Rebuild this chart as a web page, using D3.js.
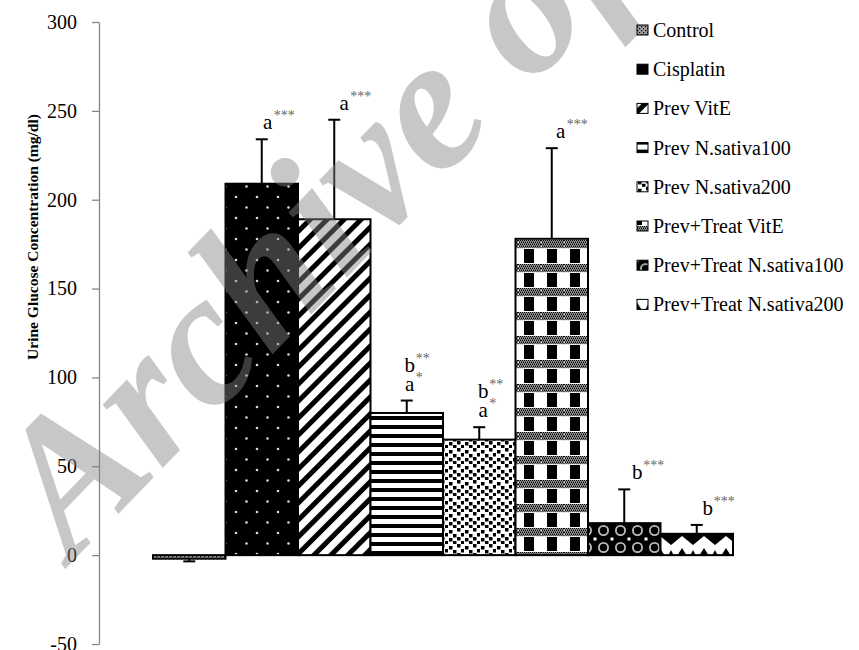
<!DOCTYPE html>
<html>
<head>
<meta charset="utf-8">
<script src="https://cdnjs.cloudflare.com/ajax/libs/d3/7.8.5/d3.min.js"></script>
<title>Urine Glucose</title>
<style>
    html, body { margin: 0; background: #fff; }
    .svg_canvas { display: block; font-family: "Liberation Serif", "Times New Roman", serif; }
</style>
</head>
<body>
<svg width="859" height="650" class="svg_canvas"></svg>
<script>
    var groups = ["Control", "Cisplatin", "Prev VitE", "Prev N.sativa100", "Prev N.sativa200",
                  "Prev+Treat VitE", "Prev+Treat N.sativa100", "Prev+Treat N.sativa200"];
    var means  = [-2, 209, 189, 80, 65, 178, 18, 12];
    var errors = [1.5, 25, 56, 7, 7, 51, 19, 5];
    var yTicks = [-50, 0, 50, 100, 150, 200, 250, 300];
    // significance letters per bar, top line first: [letter, superscript]
    var marks = [
        [],
        [["a", "***"]],
        [["a", "***"]],
        [["b", "**"], ["a", "*"]],
        [["b", "**"], ["a", "*"]],
        [["a", "***"]],
        [["b", "***"]],
        [["b", "***"]]
    ];
    var markShift = [0, 6, 10, 3, 4, 9, 13, 11];

    var svg = d3.select(".svg_canvas");

    var y = d3.scaleLinear().domain([-50, 300]).range([644, 22]);
    var x = d3.scaleBand().domain(groups).range([153, 733]).padding(0);

    // fill patterns
    var defs = svg.append("defs");
    function pat(id, w, h) {
        return defs.append("pattern").attr("id", id)
            .attr("patternUnits", "userSpaceOnUse")
            .attr("width", w).attr("height", h);
    }
    var p;
    p = pat("p0", 4, 4);
    p.append("rect").attr("width", 4).attr("height", 4).attr("fill", "#9a9a9a");
    p.append("rect").attr("width", 1.2).attr("height", 1.2).attr("fill", "#000");
    p.append("rect").attr("x", 2).attr("y", 2).attr("width", 1.2).attr("height", 1.2).attr("fill", "#000");

    p = pat("p1", 21, 21).attr("y", 3);
    p.append("rect").attr("width", 21).attr("height", 21).attr("fill", "#000");
    p.append("circle").attr("cx", 5).attr("cy", 5).attr("r", 1.3).attr("fill", "#d8d8d8");
    p.append("circle").attr("cx", 15.5).attr("cy", 15.5).attr("r", 1.3).attr("fill", "#d8d8d8");

    p = pat("p2", 12, 12).attr("patternTransform", "rotate(45)");
    p.append("rect").attr("width", 12).attr("height", 12).attr("fill", "#fff");
    p.append("rect").attr("width", 5).attr("height", 12).attr("fill", "#000");

    p = pat("p3", 9, 9).attr("y", 2);
    p.append("rect").attr("width", 9).attr("height", 9).attr("fill", "#fff");
    p.append("rect").attr("width", 9).attr("height", 4).attr("fill", "#000");

    p = pat("p4", 16, 16);
    p.append("rect").attr("width", 16).attr("height", 16).attr("fill", "#fff");
    [[1, 2], [9, 0], [5, 6], [13, 5], [1, 10], [9, 9], [5, 13], [13, 13]].forEach(function(s) {
        p.append("rect").attr("x", s[0]).attr("y", s[1]).attr("width", 3.5).attr("height", 3.5).attr("fill", "#000");
    });

    p = pat("p5", 23, 24).attr("x", 518);
    p.append("rect").attr("width", 23).attr("height", 24).attr("fill", "#fff");
    for (var i = 0; i < 23; i += 2) {
        for (var j = 0; j < 8; j += 2) {
            p.append("rect").attr("x", i + (j % 4 ? 1 : 0)).attr("y", j).attr("width", 1.4).attr("height", 1.4).attr("fill", "#000");
            p.append("rect").attr("x", i + (j % 4 ? 0 : 1)).attr("y", j + 1).attr("width", 1.2).attr("height", 1.2).attr("fill", "#555");
        }
    }
    p.append("rect").attr("x", 6).attr("y", 9).attr("width", 10).attr("height", 14).attr("fill", "#000");

    p = pat("p6", 17, 17).attr("y", 522);
    p.append("rect").attr("width", 17).attr("height", 17).attr("fill", "#000");
    p.append("circle").attr("cx", 8.5).attr("cy", 8.5).attr("r", 4.6).attr("fill", "none").attr("stroke", "#bbb").attr("stroke-width", 1.8);
    p.append("rect").attr("x", -1.5).attr("y", -1.5).attr("width", 3).attr("height", 3).attr("fill", "#fff");
    p.append("rect").attr("x", 15.5).attr("y", -1.5).attr("width", 3).attr("height", 3).attr("fill", "#fff");
    p.append("rect").attr("x", -1.5).attr("y", 15.5).attr("width", 3).attr("height", 3).attr("fill", "#fff");
    p.append("rect").attr("x", 15.5).attr("y", 15.5).attr("width", 3).attr("height", 3).attr("fill", "#fff");

    p = pat("p7", 22, 22).attr("x", 660).attr("y", 534);
    p.append("rect").attr("width", 22).attr("height", 22).attr("fill", "#fff");
    p.append("polygon").attr("points", "0,0 22,0 22,2 11,11 0,2").attr("fill", "#000");
    p.append("polygon").attr("points", "0,14 5,22 0,22").attr("fill", "#000");
    p.append("polygon").attr("points", "22,14 17,22 22,22").attr("fill", "#000");
    p.append("polygon").attr("points", "11,16 14,22 8,22").attr("fill", "#000");

    // y axis
    var yAxis = svg.append("g")
        .attr("transform", "translate(99,0)")
        .call(d3.axisLeft(y).tickValues(yTicks).tickSize(7).tickSizeOuter(0).tickPadding(15)
            .tickFormat(function(d) { return String(d); }));
    yAxis.select(".domain").attr("stroke", "#868686").attr("stroke-width", 1.3);
    yAxis.selectAll(".tick line").attr("stroke", "#868686").attr("stroke-width", 1.3);
    yAxis.selectAll(".tick text")
        .style("font-family", "Liberation Serif, serif")
        .style("font-size", "20px").attr("fill", "#000");

    svg.append("text")
        .attr("transform", "translate(38,237) rotate(-90)")
        .attr("text-anchor", "middle")
        .style("font-size", "15.5px").style("font-weight", "bold")
        .text("Urine Glucose Concentration (mg/dl)");

    // bars
    svg.selectAll(".bar").data(groups).enter().append("rect")
        .attr("class", "bar")
        .attr("x", function(d) { return x(d); })
        .attr("width", x.bandwidth())
        .attr("y", function(d, i) { return y(Math.max(0, means[i])); })
        .attr("height", function(d, i) { return Math.abs(y(means[i]) - y(0)); })
        .attr("fill", function(d, i) { return "url(#p" + i + ")"; })
        .attr("stroke", "#000").attr("stroke-width", 2);

    // error bars
    var eb = svg.selectAll(".err").data(groups).enter().append("g").attr("class", "err")
        .attr("stroke", "#000").attr("stroke-width", 2);
    function tip(i) { return means[i] < 0 ? means[i] - errors[i] : means[i] + errors[i]; }
    eb.append("line")
        .attr("x1", function(d) { return x(d) + x.bandwidth() / 2; })
        .attr("x2", function(d) { return x(d) + x.bandwidth() / 2; })
        .attr("y1", function(d, i) { return y(means[i]); })
        .attr("y2", function(d, i) { return y(tip(i)); });
    eb.append("line")
        .attr("x1", function(d) { return x(d) + x.bandwidth() / 2 - 6; })
        .attr("x2", function(d) { return x(d) + x.bandwidth() / 2 + 6; })
        .attr("y1", function(d, i) { return y(tip(i)); })
        .attr("y2", function(d, i) { return y(tip(i)); });

    // watermark
    svg.append("text")
        .attr("transform", "translate(72,562) rotate(-46)")
        .style("font-size", "190px").style("font-weight", "bold").style("font-style", "italic")
        .attr("fill", "#858585").attr("opacity", 0.45)
        .text("Archive of SID");

    // significance labels
    groups.forEach(function(g, i) {
        var lines = marks[i];
        var cx = x(g) + x.bandwidth() / 2 + markShift[i];
        var base = y(tip(i)) - 10;
        lines.slice().reverse().forEach(function(l, k) {
            var by = base - k * 19;
            svg.append("text").attr("x", cx).attr("y", by)
                .attr("text-anchor", "middle")
                .style("font-size", "21px").text(l[0]);
            svg.append("text").attr("x", cx + 6).attr("y", by - 9)
                .style("font-size", "14px").attr("fill", "#666").text(l[1]);
        });
    });

    // legend
    var leg = svg.selectAll(".leg").data(groups).enter().append("g")
        .attr("class", "leg")
        .attr("transform", function(d, i) { return "translate(637," + (30 + i * 39.2) + ")"; });
    leg.append("rect").attr("x", 0).attr("y", -5).attr("width", 11).attr("height", 10)
        .attr("fill", function(d, i) { return "url(#p" + i + ")"; })
        .attr("stroke", "#000").attr("stroke-width", 1);
    leg.append("text").attr("x", 16).attr("dy", "0.35em")
        .style("font-size", "20px").text(function(d) { return d; });
</script>
</body>
</html>
